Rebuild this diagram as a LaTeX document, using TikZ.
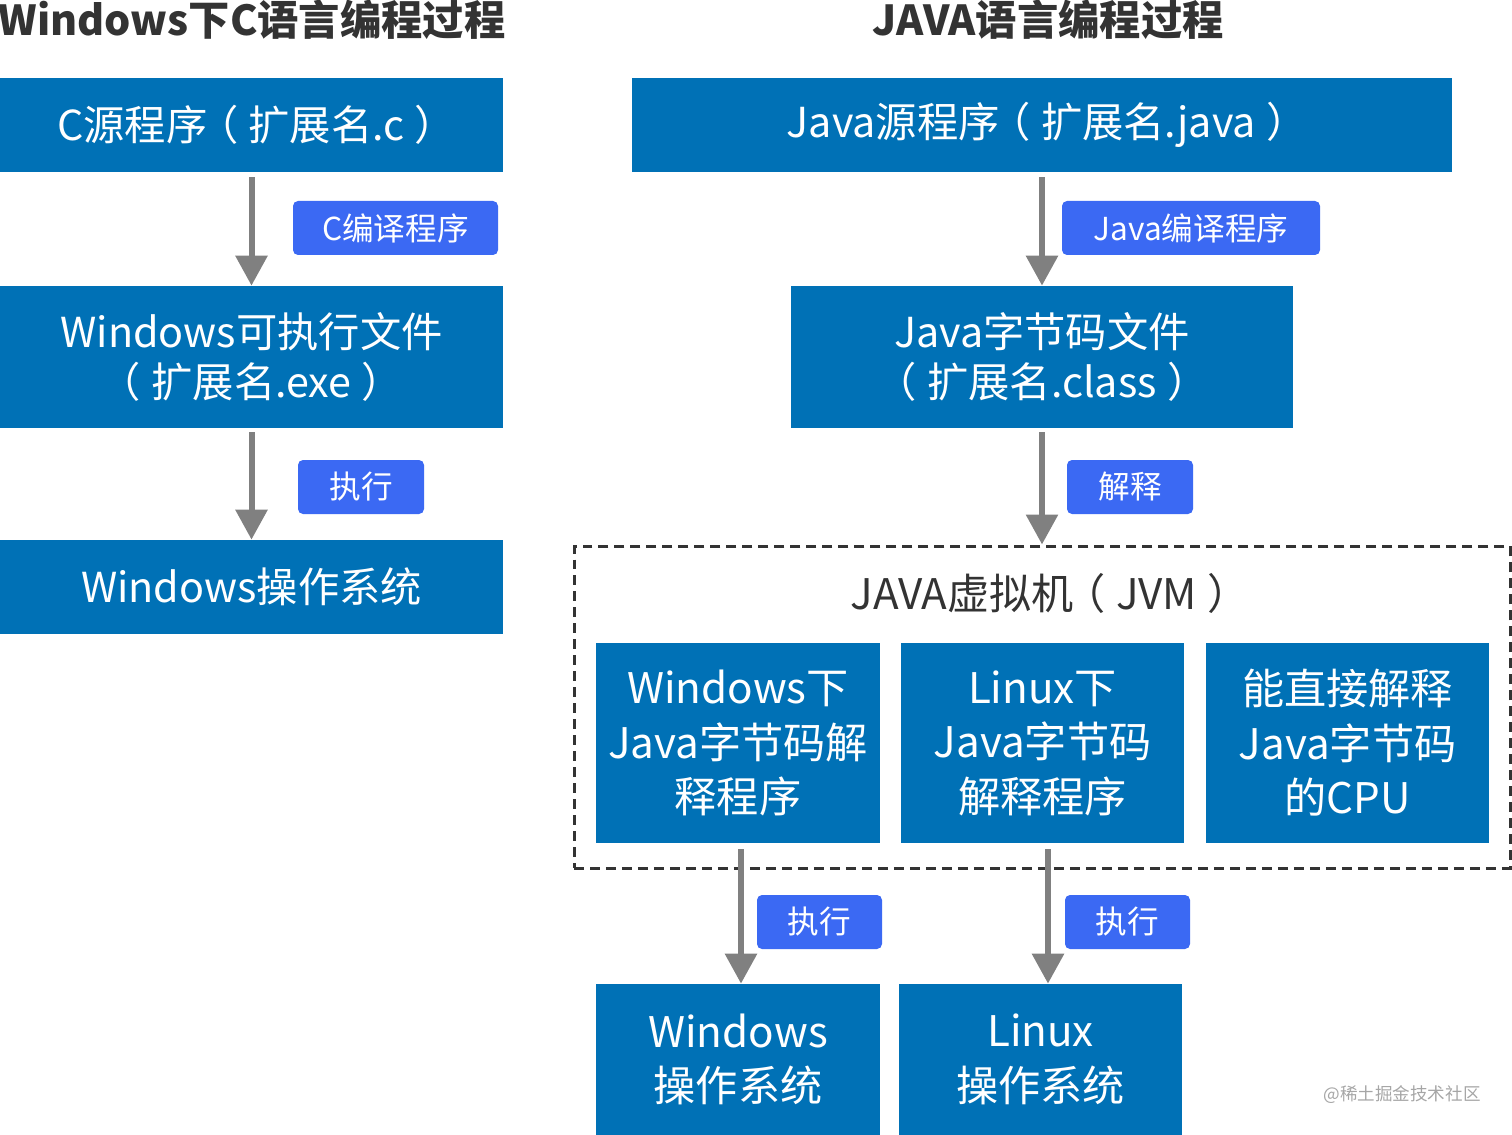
\documentclass[tikz,border=0pt]{standalone}
\usepackage{fontspec}
\setmainfont{Noto Sans CJK SC}
\usetikzlibrary{arrows.meta}
\definecolor{boxblue}{RGB}{0,113,182}
\definecolor{labblue}{RGB}{59,105,243}
\definecolor{arrgray}{RGB}{128,128,128}
\definecolor{ttlgray}{RGB}{51,51,51}
\newcommand\lpar{\kern-0.25em（\kern0.25em}
\newcommand\rpar{\kern0.25em）\kern-0.25em}
\tikzset{
  bluebox/.style 2 args={draw=none, fill=boxblue, text=white, align=center, inner sep=0pt,
    minimum width=#1*0.02cm, minimum height=#2*0.02cm},
  lab/.style 2 args={fill=labblue, text=white, rounded corners=0.1cm, inner sep=0pt,
    minimum width=#1*0.02cm, minimum height=#2*0.02cm, font=\fontsize{18}{20}\selectfont},
  ttl/.style={text=ttlgray, inner sep=0pt, font=\fontsize{23.5}{26}\selectfont\bfseries},
  arr/.style={draw=arrgray, line width=0.12cm, -{Triangle[width=0.62cm,length=0.6cm]}},
  fmain/.style={font=\fontsize{23.5}{28.5}\selectfont},
  fjvm/.style={font=\fontsize{24}{31}\selectfont},
}
\begin{document}
\begin{tikzpicture}[x=0.02cm,y=-0.02cm]
\useasboundingbox (0,0) rectangle (1512,1135);
% titles
\node[ttl] (t1) at (252,20) {Windows下C语言编程过程};
\node[ttl] (t2) at (1048,20) {JAVA语言编程过程};
% left column
\node[bluebox={503}{94}, fmain] (c1) at (251.5,125) {C源程序\lpar 扩展名.c\rpar};
\node[bluebox={503}{142}, fmain] (c2) at (251.5,357) {Windows可执行文件\\\lpar 扩展名.exe\rpar};
\node[bluebox={503}{94}, fmain] (c3) at (251.5,587) {Windows操作系统};
\node[lab={205}{54}] (lc) at (395.5,228) {C编译程序};
\node[lab={126}{54}] (le1) at (361,487) {执行};
\draw[arr] ([yshift=-5*0.02cm]c1.south) -- (c2.north);
\draw[arr] ([yshift=-4*0.02cm]c2.south) -- (c3.north);
% right column
\node[bluebox={820}{94}, fmain] (j1) at (1042,125) {Java源程序\lpar 扩展名.java\rpar};
\node[bluebox={502}{142}, fmain] (j2) at (1042,357) {Java字节码文件\\\lpar 扩展名.class\rpar};
\node[lab={258}{54}] (ljc) at (1191,228) {Java编译程序};
\node[lab={126}{54}] (lint) at (1130,487) {解释};
\draw[arr] ([yshift=-5*0.02cm]j1.south) -- (j2.north);
% JVM
\node[draw=ttlgray, dashed, dash pattern=on 0.2cm off 0.12cm, line width=0.06cm, inner sep=0pt,
  minimum width=936*0.02cm, minimum height=322*0.02cm] (jvm) at (1042,707) {};
\node[text=ttlgray, inner sep=0pt, font=\fontsize{24}{28}\selectfont] (jvmt) at (1045,593) {JAVA虚拟机\lpar JVM\rpar};
\node[bluebox={284}{200}, fjvm] (w1) at (738,743) {Windows下\\Java字节码解\\释程序};
\node[bluebox={283}{200}, fjvm] (l1) at (1042.5,743) {Linux下\\Java字节码\\解释程序};
\node[bluebox={283}{200}, fjvm] (cpu) at (1347.5,743) {能直接解释\\Java字节码\\的CPU};
\draw[arr] ([yshift=-4*0.02cm]j2.south) -- (jvm.north -| j2.south);
% OS boxes
\node[bluebox={284}{151}, fjvm] (os1) at (738,1059.5) {Windows\\操作系统};
\node[bluebox={283}{151}, fjvm] (os2) at (1040.5,1059.5) {Linux\\操作系统};
\node[lab={125}{54}] (le2) at (819.5,922) {执行};
\node[lab={125}{54}] (le3) at (1127.5,922) {执行};
\draw[arr] ([xshift=3*0.02cm,yshift=-6*0.02cm]w1.south) -- ([xshift=3*0.02cm]os1.north);
\draw[arr] ([xshift=5.5*0.02cm,yshift=-6*0.02cm]l1.south) -- ([xshift=7.5*0.02cm]os2.north);
% watermark
\node[text=black!35, inner sep=0pt, font=\fontsize{10}{12}\selectfont] (wm) at (1402,1095) {@稀土掘金技术社区};
\end{tikzpicture}
\end{document}
